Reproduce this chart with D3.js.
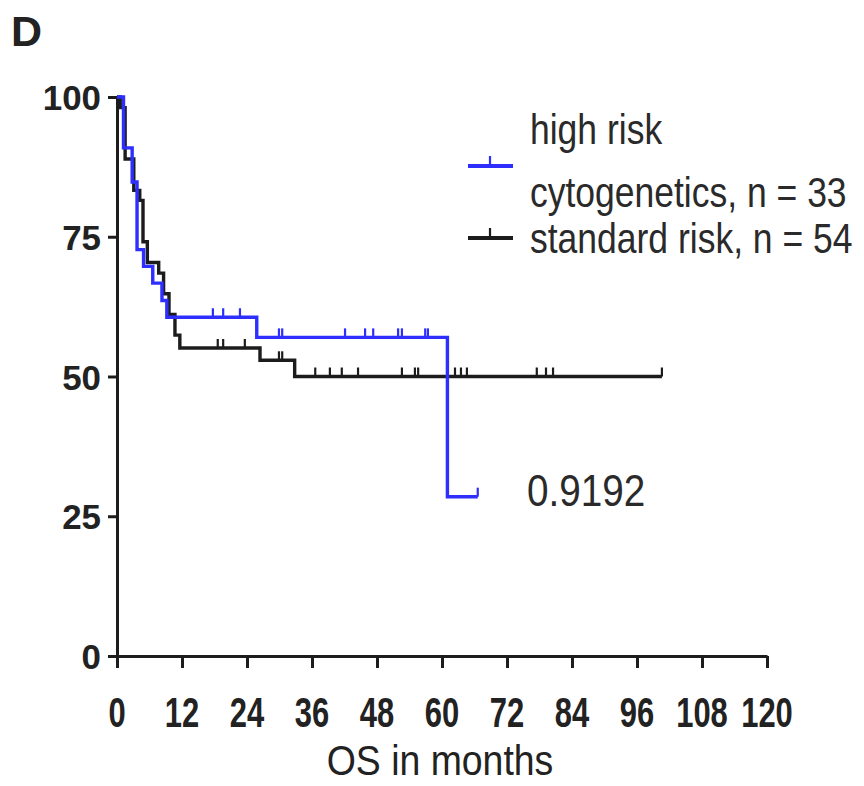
<!DOCTYPE html>
<html>
<head>
<meta charset="utf-8">
<script src="https://cdn.jsdelivr.net/npm/d3@7"></script>
<style>
  body { margin: 0; background: #fff; }
  svg { display: block; }
</style>
</head>
<body>
<div id="container"></div>
<script>
"use strict";

// SECTION: data (months / percent survival)
const highTimes = [0, 1.2, 2.8, 3.7, 4.9, 6.6, 8.3, 9.2, 25.8, 61.0];
const highSurv  = [100, 90.9, 84.8, 72.7, 69.7, 66.7, 63.6, 60.6, 57.0, 28.5];
const highEnd = 66.6;
const highCensor = [17.7, 19.6, 22.7, 29.9, 30.5, 42.1, 45.8, 47.3, 51.9, 52.6, 56.9, 57.4, 66.6];

const stdTimes = [0, 0.6, 1.5, 3.1, 4.2, 4.8, 5.6, 7.7, 8.6, 9.6, 10.7, 11.6, 26.4, 32.8];
const stdSurv  = [100, 98.1, 88.9, 83.3, 81.5, 74.1, 70.4, 68.5, 64.8, 61.1, 57.4, 55.1, 52.9, 50.0];
const stdEnd = 100.6;
const stdCensor = [18.6, 19.6, 23.6, 29.9, 30.5, 36.6, 39.3, 41.5, 44.5, 52.6, 55.0, 55.6,
                   62.4, 63.5, 64.6, 77.5, 79.2, 80.5, 100.6];

const xTicks = [0, 12, 24, 36, 48, 60, 72, 84, 96, 108, 120];
const yTicks = [0, 25, 50, 75, 100];

const legendLabels = [["high risk", "cytogenetics, n = 33"], ["standard risk, n = 54"]];
const pValue = "0.9192";

const BLUE = "#2e2eff";
const INK = "#1c1c1c";
const FONT = "'Liberation Sans', Arial, sans-serif";

// SECTION: scales
const x = d3.scaleLinear().domain([0, 120]).range([117, 767]);
const y = d3.scaleLinear().domain([0, 100]).range([656, 97]);

const svg = d3.select("#container")
    .append("svg")
    .attr("width", 864)
    .attr("height", 786);

// helper for horizontally squeezed text (the figure's font is condensed)
function sqText(g, tx, ty, str, size, weight, anchor, sx, color) {
  return g.append("text")
      .attr("transform", `translate(${tx},${ty}) scale(${sx},1)`)
      .attr("text-anchor", anchor || "start")
      .style("font-family", FONT)
      .style("font-size", size + "px")
      .style("font-weight", weight || "normal")
      .style("fill", color || "#2a2a2a")
      .text(str);
}

// SECTION: axes
svg.append("g")
    .attr("transform", `translate(${x(0)},0)`)
    .call(d3.axisLeft(y).tickValues(yTicks).tickSize(9).tickSizeOuter(0).tickFormat(""));
svg.append("g")
    .attr("transform", `translate(0,${y(0)})`)
    .call(d3.axisBottom(x).tickValues(xTicks).tickSize(12).tickSizeOuter(0).tickFormat(""));

svg.selectAll(".domain, .tick line")
    .attr("stroke", INK)
    .attr("stroke-width", 3);

// tick labels
yTicks.forEach(v => {
  sqText(svg, x(0) - 16, y(v) + 13, v, 36, "bold", "end", 0.97, "#222");
});
xTicks.forEach(v => {
  sqText(svg, x(v), y(0) + 71, v, 43, "bold", "middle", 0.72, "#222");
});

sqText(svg, x(60) - 2, 775, "OS in months", 43, "normal", "middle", 0.87, "#222");
sqText(svg, 11, 46, "D", 43, "bold", "start", 1, "#222");

// SECTION: survival curves
function stepPoints(times, surv, end) {
  const pts = times.map((t, i) => [t, surv[i]]);
  pts.push([end, surv[surv.length - 1]]);
  return pts;
}
function survAt(times, surv, t) {
  let s = surv[0];
  for (let i = 0; i < times.length; i++) if (times[i] <= t) s = surv[i];
  return s;
}

const line = d3.line()
    .x(d => x(d[0]))
    .y(d => y(d[1]))
    .curve(d3.curveStepAfter);

const series = [
  {times: stdTimes, surv: stdSurv, end: stdEnd, censor: stdCensor, color: INK},
  {times: highTimes, surv: highSurv, end: highEnd, censor: highCensor, color: BLUE}
];

series.forEach(s => {
  svg.append("path")
      .datum(stepPoints(s.times, s.surv, s.end))
      .attr("d", line)
      .attr("fill", "none")
      .attr("stroke", s.color)
      .attr("stroke-width", 3.4)
      .attr("stroke-linejoin", "miter");

  svg.append("g").selectAll("line")
    .data(s.censor)
    .enter()
    .append("line")
      .attr("x1", d => x(d))
      .attr("x2", d => x(d))
      .attr("y1", d => y(survAt(s.times, s.surv, d)))
      .attr("y2", d => y(survAt(s.times, s.surv, d)) - 9)
      .attr("stroke", s.color)
      .attr("stroke-width", 2.2);
});

// SECTION: legend
const legend = svg.append("g");
const legendRows = [
  {color: BLUE, ly: 166, texts: legendLabels[0], ty: [144, 207]},
  {color: INK, ly: 238, texts: legendLabels[1], ty: [253]}
];
legendRows.forEach(r => {
  legend.append("line")
      .attr("x1", 468).attr("x2", 513)
      .attr("y1", r.ly).attr("y2", r.ly)
      .attr("stroke", r.color).attr("stroke-width", 4);
  legend.append("line")
      .attr("x1", 490).attr("x2", 490)
      .attr("y1", r.ly).attr("y2", r.ly - 10)
      .attr("stroke", r.color).attr("stroke-width", 2.2);
  r.texts.forEach((t, i) => {
    sqText(legend, 530, r.ty[i], t, 42, "normal", "start", 0.845, "#2a2a2a");
  });
});

sqText(svg, 527, 506, pValue, 45, "normal", "start", 0.86, "#2a2a2a");
</script>
</body>
</html>
